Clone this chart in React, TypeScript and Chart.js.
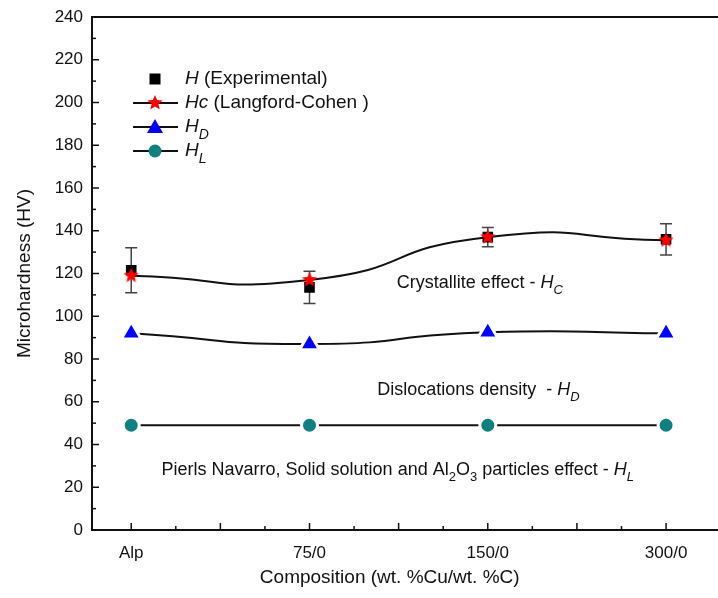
import React, { useEffect, useRef } from "react";
import { Chart, registerables } from "chart.js";

Chart.register(...registerables);

const categories = ["Alp", "75/0", "150/0", "300/0"];
const xPositions = [0, 1, 2, 3];
const hExperimental = [121.5, 113.5, 137, 136];
const hExperimentalErr = [10.5, 7.5, 4.5, 7.3];
const hLangfordCohen = [119, 117, 137, 135.5];
const hDislocation = [92, 87, 92.5, 92];
const hLattice = [49, 49, 49, 49];
const yTickValues = [0, 20, 40, 60, 80, 100, 120, 140, 160, 180, 200, 220, 240];

const FONT = '"Liberation Sans", Arial, sans-serif';

type Seg = { t: string; it?: boolean; sub?: boolean };

function drawRich(ctx: CanvasRenderingContext2D, segs: Seg[], x: number, y: number, size: number) {
  let cx = x;
  ctx.textBaseline = "middle";
  ctx.textAlign = "left";
  ctx.fillStyle = "#111";
  for (const s of segs) {
    const fs = s.sub ? Math.round(size * 0.72) : size;
    ctx.font = `${s.it ? "italic " : ""}${fs}px ${FONT}`;
    const dy = s.sub ? size * 0.42 : 0;
    ctx.fillText(s.t, cx, y + dy);
    cx += ctx.measureText(s.t).width;
  }
}

function makeStar(r: number, color: string) {
  const c = document.createElement("canvas");
  const s = Math.ceil(r * 2) + 2;
  c.width = s;
  c.height = s;
  const g = c.getContext("2d")!;
  g.fillStyle = color;
  g.beginPath();
  for (let i = 0; i < 10; i++) {
    const rr = i % 2 === 0 ? r : r * 0.45;
    const a = -Math.PI / 2 + (i * Math.PI) / 5;
    const px = s / 2 + rr * Math.cos(a);
    const py = s / 2 + rr * Math.sin(a);
    if (i === 0) g.moveTo(px, py);
    else g.lineTo(px, py);
  }
  g.closePath();
  g.fill();
  return c;
}

const zeroPad = () => ({ left: 0, right: 0, top: 0, bottom: 0 });

export default function App() {
  const ref = useRef<HTMLCanvasElement | null>(null);

  useEffect(() => {
    document.body.style.margin = "0";
    document.body.style.overflow = "hidden";
    const canvas = ref.current!;
    const star = makeStar(8, "#ff0000");

    const mk = (arr: number[]) => arr.map((v, i) => ({ x: xPositions[i], y: v }));

    const decor = {
      id: "decor",
      beforeDatasetsDraw(chart: any) {
        const ctx = chart.ctx as CanvasRenderingContext2D;
        const xs = chart.scales.x;
        const ys = chart.scales.y;
        ctx.save();
        ctx.strokeStyle = "#444";
        ctx.lineWidth = 1.5;
        hExperimental.forEach((v, i) => {
          const px = xs.getPixelForValue(xPositions[i]);
          const t = ys.getPixelForValue(v + hExperimentalErr[i]);
          const b = ys.getPixelForValue(v - hExperimentalErr[i]);
          ctx.beginPath();
          ctx.moveTo(px, t);
          ctx.lineTo(px, b);
          ctx.moveTo(px - 6, t);
          ctx.lineTo(px + 6, t);
          ctx.moveTo(px - 6, b);
          ctx.lineTo(px + 6, b);
          ctx.stroke();
        });
        ctx.restore();
      },
      afterDraw(chart: any) {
        const ctx = chart.ctx as CanvasRenderingContext2D;
        const xs = chart.scales.x;
        const ys = chart.scales.y;
        const { left, top, bottom } = chart.chartArea;
        const fullRight = chart.width;
        ctx.save();
        ctx.strokeStyle = "#111";
        ctx.lineWidth = 2;
        ctx.beginPath();
        ctx.moveTo(left - 1, top);
        ctx.lineTo(fullRight, top);
        ctx.moveTo(left - 1, bottom);
        ctx.lineTo(fullRight, bottom);
        ctx.stroke();
        ctx.lineWidth = 1.5;
        for (let v = 0; v <= 240; v += 10) {
          const py = ys.getPixelForValue(v);
          const len = v % 20 === 0 ? 7 : 4;
          ctx.beginPath();
          ctx.moveTo(left, py);
          ctx.lineTo(left + len, py);
          ctx.stroke();
        }
        for (let v = 0; v <= 3.001; v += 0.25) {
          const px = xs.getPixelForValue(v);
          const len = Math.abs(v * 2 - Math.round(v * 2)) < 1e-6 ? 7 : 4;
          ctx.beginPath();
          ctx.moveTo(px, bottom);
          ctx.lineTo(px, bottom - len);
          ctx.stroke();
        }
        ctx.fillStyle = "#111";
        ctx.font = `19px ${FONT}`;
        ctx.textAlign = "center";
        ctx.textBaseline = "middle";
        ctx.fillText("Composition (wt. %Cu/wt. %C)", xs.getPixelForValue(1.45), 578);
        ctx.save();
        ctx.translate(25, ys.getPixelForValue(120));
        ctx.rotate(-Math.PI / 2);
        ctx.fillText("Microhardness (HV)", 0, 0);
        ctx.restore();

        drawRich(ctx, [{ t: "Crystallite effect - " }, { t: "H", it: true }, { t: "C", it: true, sub: true }],
          xs.getPixelForValue(1.49), ys.getPixelForValue(115.5), 18);
        drawRich(ctx, [{ t: "Dislocations density  - " }, { t: "H", it: true }, { t: "D", it: true, sub: true }],
          xs.getPixelForValue(1.38), ys.getPixelForValue(65.5), 18);
        drawRich(ctx, [
          { t: "Pierls Navarro, Solid solution and Al" }, { t: "2", sub: true }, { t: "O" }, { t: "3", sub: true },
          { t: " particles effect - " }, { t: "H", it: true }, { t: "L", it: true, sub: true },
        ], xs.getPixelForValue(0.17), ys.getPixelForValue(28), 18);

        const lx = left + 41;
        const rows = [79, 103, 127, 151];
        const tx = lx + 52;
        ctx.fillStyle = "#000";
        ctx.fillRect(lx + 22 - 5.5, rows[0] - 5.5, 11, 11);
        drawRich(ctx, [{ t: "H", it: true }, { t: " (Experimental)" }], tx, rows[0], 19);
        const lineRow = (y: number) => {
          ctx.strokeStyle = "#111";
          ctx.lineWidth = 2;
          ctx.beginPath();
          ctx.moveTo(lx, y);
          ctx.lineTo(lx + 45, y);
          ctx.stroke();
        };
        lineRow(rows[1]);
        ctx.drawImage(star, lx + 22 - star.width / 2, rows[1] - star.height / 2);
        drawRich(ctx, [{ t: "Hc", it: true }, { t: " (Langford-Cohen )" }], tx, rows[1], 19);
        lineRow(rows[2]);
        ctx.fillStyle = "#0000ff";
        ctx.beginPath();
        ctx.moveTo(lx + 22, rows[2] - 8);
        ctx.lineTo(lx + 22 + 8, rows[2] + 6);
        ctx.lineTo(lx + 22 - 8, rows[2] + 6);
        ctx.closePath();
        ctx.fill();
        drawRich(ctx, [{ t: "H", it: true }, { t: "D", it: true, sub: true }], tx, rows[2], 19);
        lineRow(rows[3]);
        ctx.fillStyle = "#0e8080";
        ctx.beginPath();
        ctx.arc(lx + 22, rows[3], 6.5, 0, Math.PI * 2);
        ctx.fill();
        drawRich(ctx, [{ t: "H", it: true }, { t: "L", it: true, sub: true }], tx, rows[3], 19);
        ctx.restore();
      },
    };

    const chart = new Chart(canvas, {
      type: "line",
      data: {
        datasets: [
          {
            label: "Hc (Langford-Cohen )",
            data: mk(hLangfordCohen),
            borderColor: "#111",
            borderWidth: 2,
            tension: 0.6,
            pointStyle: star as any,
            pointRadius: 8,
            order: 0,
          },
          {
            label: "H (Experimental)",
            data: mk(hExperimental),
            showLine: false,
            pointStyle: "rect",
            pointRadius: 7.5,
            pointBackgroundColor: "#000",
            pointBorderColor: "#000",
            pointBorderWidth: 0,
            order: 1,
          },
          {
            label: "HD",
            data: mk(hDislocation),
            borderColor: "#111",
            borderWidth: 2,
            tension: 0.6,
            pointStyle: "triangle",
            pointRadius: 11.5,
            pointBackgroundColor: "#0000ff",
            pointBorderColor: "#ffffff",
            pointBorderWidth: 3,
            order: 2,
          },
          {
            label: "HL",
            data: mk(hLattice),
            borderColor: "#111",
            borderWidth: 2,
            tension: 0,
            pointStyle: "circle",
            pointRadius: 8,
            pointBackgroundColor: "#0e8080",
            pointBorderColor: "#ffffff",
            pointBorderWidth: 3,
            order: 3,
          },
        ],
      },
      options: {
        animation: false,
        responsive: false,
        maintainAspectRatio: false,
        devicePixelRatio: 1,
        layout: { padding: { top: 17, right: 0, left: 0, bottom: 0 } },
        plugins: { legend: { display: false }, tooltip: { enabled: false } },
        scales: {
          x: {
            type: "linear",
            min: -0.22,
            max: 3.21,
            grid: { display: false, drawTicks: false },
            border: { display: false },
            afterBuildTicks: (s: any) => {
              s.ticks = xPositions.map((v) => ({ value: v }));
            },
            afterFit: (s: any) => {
              s.height = 68;
              s.paddingLeft = 0;
              s.paddingRight = 0;
              s.getPadding = zeroPad;
            },
            ticks: {
              padding: 13,
              color: "#111",
              font: { family: FONT, size: 17 },
              maxRotation: 0,
              autoSkip: false,
              callback: (v: any) => categories[Math.round(Number(v))] ?? "",
            },
          },
          y: {
            type: "linear",
            min: 0,
            max: 240,
            grid: { display: false, drawTicks: false },
            border: { display: true, color: "#111", width: 2 },
            afterBuildTicks: (s: any) => {
              s.ticks = yTickValues.map((v) => ({ value: v }));
            },
            afterFit: (s: any) => {
              s.width = 92;
              s.paddingTop = 0;
              s.paddingBottom = 0;
              s.getPadding = zeroPad;
            },
            ticks: {
              padding: 9,
              color: "#111",
              font: { family: FONT, size: 17 },
            },
          },
        },
      },
      plugins: [decor],
    });
    return () => chart.destroy();
  }, []);

  return (
    <div style={{ width: 718, height: 598, position: "relative", background: "#fff", overflow: "hidden" }}>
      <canvas ref={ref} width={718} height={598} style={{ display: "block" }} />
    </div>
  );
}
